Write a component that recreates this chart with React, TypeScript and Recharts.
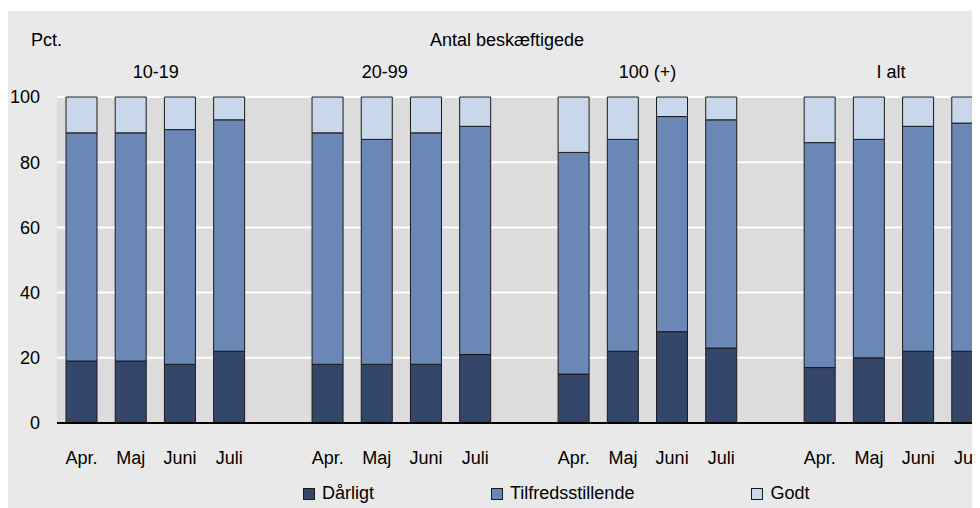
import React from 'react';
import { BarChart, Bar, XAxis, YAxis, CartesianGrid, Legend } from 'recharts';

const groups = ['10-19', '20-99', '100 (+)', 'I alt'];
const months = ['Apr.', 'Maj', 'Juni', 'Juli'];
const darligt = [
  [19, 19, 18, 22],
  [18, 18, 18, 21],
  [15, 22, 28, 23],
  [17, 20, 22, 22],
];
const tilfredsstillende = [
  [70, 70, 72, 71],
  [71, 69, 71, 70],
  [68, 65, 66, 70],
  [69, 67, 69, 70],
];
const godt = [
  [11, 11, 10, 7],
  [11, 13, 11, 9],
  [17, 13, 6, 7],
  [14, 13, 9, 8],
];
const yTicks = [0, 20, 40, 60, 80, 100];

const series = [
  { key: 'darligt', name: 'Dårligt', color: '#34476a' },
  { key: 'tilf', name: 'Tilfredsstillende', color: '#6a87b5' },
  { key: 'godt', name: 'Godt', color: '#c8d7ea' },
];

const data: any[] = [];
groups.forEach((g, gi) => {
  months.forEach((m, mi) => {
    data.push({
      month: m,
      group: mi === 1 ? g : '',
      gi,
      darligt: darligt[gi][mi],
      tilf: tilfredsstillende[gi][mi],
      godt: godt[gi][mi],
    });
  });
  if (gi < groups.length - 1) data.push({ month: '', group: '', gi: -1 });
});

const FONT = "'Liberation Sans', Arial, sans-serif";
const FS = 18;
const groupDx = [25, 8, 24.5, 22];

const GroupTick = (props: any) => {
  const { x, y, index } = props;
  const d = data[index];
  if (!d || !d.group) return null;
  return (
    <text x={x + groupDx[d.gi]} y={y} dy={-11} textAnchor="middle" fontFamily={FONT} fontSize={FS} fill="#000">
      {d.group}
    </text>
  );
};

const LegendContent = () => (
  <div style={{ display: 'flex', fontFamily: FONT, fontSize: FS, color: '#000' }}>
    {series.map((s) => (
      <div key={s.key} style={{ display: 'flex', alignItems: 'center', marginRight: 117 }}>
        <span
          style={{
            display: 'inline-block',
            width: 12,
            height: 12,
            background: s.color,
            border: '1px solid #1a1a1a',
            marginRight: 7,
            boxSizing: 'border-box',
          }}
        />
        <span>{s.name}</span>
      </div>
    ))}
  </div>
);

export default function App() {
  return (
    <div
      style={{
        marginTop: 3,
        width: 972,
        height: 497,
        overflow: 'hidden',
        background: '#e9e9e9',
        position: 'relative',
      }}
    >
      <div style={{ position: 'absolute', left: 23, top: 19, fontFamily: FONT, fontSize: FS, color: '#000' }}>
        Pct.
      </div>
      <div style={{ position: 'absolute', left: 422, top: 19, fontFamily: FONT, fontSize: FS, color: '#000' }}>
        Antal beskæftigede
      </div>
      <BarChart
        width={1000}
        height={497}
        data={data}
        margin={{ top: 56, right: 16, bottom: 45, left: 0 }}
        barSize={31}
        style={{ position: 'absolute', left: 0, top: 0 }}
      >
        <CartesianGrid vertical={false} stroke="#ffffff" strokeWidth={2} fill="#dcdcdc" />
        <XAxis
          dataKey="month"
          interval={0}
          tickLine={false}
          axisLine={{ stroke: '#000', strokeWidth: 2 }}
          height={40}
          tickMargin={22}
          tick={{ fontFamily: FONT, fontSize: FS, fill: '#000' }}
        />
        <XAxis
          xAxisId="top"
          orientation="top"
          dataKey="month"
          interval={0}
          tickLine={false}
          axisLine={false}
          height={30}
          tick={<GroupTick />}
        />
        <YAxis
          domain={[0, 100]}
          ticks={yTicks}
          width={49}
          tickLine={false}
          axisLine={false}
          tickMargin={11}
          tick={{ fontFamily: FONT, fontSize: FS, fill: '#000' }}
        />
        {series.map((s) => (
          <Bar
            key={s.key}
            dataKey={s.key}
            name={s.name}
            stackId="a"
            fill={s.color}
            stroke="#1a1a1a"
            strokeWidth={1}
            isAnimationActive={false}
          />
        ))}
        <Legend
          layout="horizontal"
          verticalAlign="middle"
          align="center"
          content={<LegendContent />}
          wrapperStyle={{ position: 'absolute', left: 295, top: 472, width: 'auto' }}
        />
      </BarChart>
    </div>
  );
}
